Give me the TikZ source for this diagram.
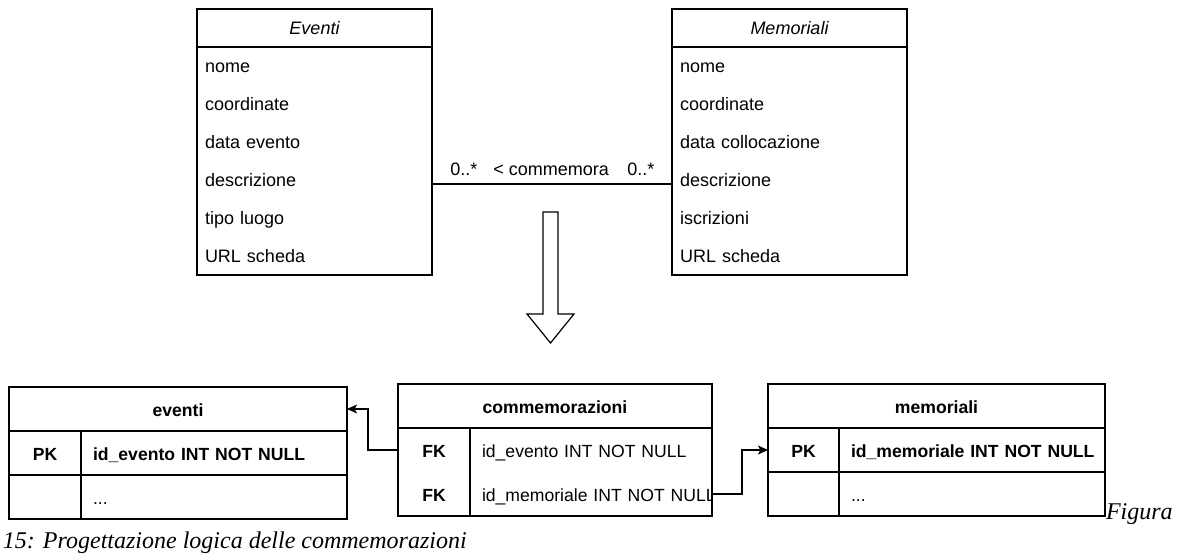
\documentclass[tikz,border=0pt]{standalone}
\usepackage{fontspec}
\setmainfont{Liberation Sans}
\newfontfamily\captionserif{Liberation Serif}
\usepackage{tikz}
\usetikzlibrary{positioning,calc,arrows.meta}

\begin{document}
\begin{tikzpicture}[x=0.5pt,y=-0.5pt,line width=0.6pt,
  every node/.append style={outer sep=0pt},
  classhead/.style={draw, inner sep=0pt, minimum width=117.5pt, minimum height=19pt, text height=7.5pt, text depth=0.8pt, font=\fontsize{9}{11}\selectfont\itshape},
  classbody/.style={draw, inner sep=0pt, minimum width=117.5pt, minimum height=114pt},
  attr/.style={inner xsep=4pt, inner ysep=0pt, text width=109.5pt, minimum height=19pt, text height=7.5pt, text depth=0.8pt, align=left, font=\fontsize{9}{11}\selectfont},
  assoc/.style={above=4pt, inner sep=0pt, font=\fontsize{9}{11}\selectfont},
  tblhead/.style={draw, inner sep=0pt, minimum height=22pt, text height=7.5pt, text depth=0pt, font=\fontsize{8.8}{10}\selectfont\bfseries},
  keycell/.style={inner sep=0pt, minimum width=36pt, minimum height=22pt, text height=7.5pt, text depth=0pt, font=\fontsize{8.8}{10}\selectfont\bfseries},
  fieldcell/.style={inner xsep=6pt, inner ysep=0pt, text width=#1, minimum height=22pt, text height=7.5pt, text depth=0pt, align=left, font=\fontsize{8.8}{10}\selectfont},
  fk/.style={-{Stealth[length=5pt,width=4.5pt,inset=1.2pt]}, line width=0.6pt},
  figcap/.style={anchor=base west, inner sep=0pt, font=\captionserif\itshape\fontsize{12}{14}\selectfont}]
\useasboundingbox (0,0) rectangle (1183,556);

%conceptual classes
\node[classhead, anchor=north west] (ev-head) at (197,9) {Eventi};
\node[classbody, below=0pt of ev-head] (ev-body) {};
\foreach \t [count=\i] in {nome,coordinate,data evento,descrizione,tipo luogo,URL scheda}
  \node[attr] (ev-\i) at (314.5,{28+38*\i}) {\t};

\node[classhead, anchor=north west] (me-head) at (672,9) {Memoriali};
\node[classbody, below=0pt of me-head] (me-body) {};
\foreach \t [count=\i] in {nome,coordinate,data collocazione,descrizione,iscrizioni,URL scheda}
  \node[attr] (me-\i) at (789.5,{28+38*\i}) {\t};

%association
\draw ([yshift=-2pt]ev-4.east) --
  node[assoc, pos=0.133] {0..*}
  node[assoc, pos=0.496] {< commemora}
  node[assoc, pos=0.87] {0..*}
  ([yshift=-2pt]me-4.west);

%transformation arrow
\draw (543,212) -- (558,212) -- (558,314) -- (574,314) -- (550.5,343) -- (527,314) -- (543,314) -- cycle;

%table eventi
\node[tblhead, minimum width=169pt, anchor=north west] (eventi) at (9,387) {eventi};
\node[keycell, draw, below right=0pt of eventi.south west] (ev-pk) {PK};
\node[fieldcell=121pt, draw, right=0pt of ev-pk, font=\fontsize{8.8}{10}\selectfont\bfseries] (ev-id) {\mbox{id\_evento INT NOT NULL}};
\node[keycell, draw, below=0pt of ev-pk] (ev-key2) {};
\node[fieldcell=121pt, draw, right=0pt of ev-key2] (ev-more) {...};

%table commemorazioni
\node[tblhead, minimum width=157pt, anchor=north west] (comm) at (398,384) {commemorazioni};
\node[draw, inner sep=0pt, minimum width=157pt, minimum height=44pt, below=0pt of comm] (cm-body) {};
\node[keycell, below right=0pt of comm.south west] (cm-fk1) {FK};
\node[keycell, below=0pt of cm-fk1] (cm-fk2) {FK};
\draw (cm-fk1.north east) -- (cm-fk1.east |- cm-body.south);
\node[fieldcell=109pt, right=0pt of cm-fk1] (cm-ev) {\mbox{id\_evento INT NOT NULL}};
\begin{scope}
  \clip (cm-body.north west) rectangle (cm-body.south east);
  \node[fieldcell=109pt, right=0pt of cm-fk2] (cm-mem) {\mbox{id\_memoriale INT NOT NULL}};
\end{scope}

%table memoriali
\node[tblhead, minimum width=168.5pt, anchor=north west] (memoriali) at (768,384) {memoriali};
\node[keycell, draw, minimum width=35.5pt, below right=0pt of memoriali.south west] (mem-pk) {PK};
\node[fieldcell=121pt, draw, right=0pt of mem-pk, font=\fontsize{8.8}{10}\selectfont\bfseries] (mem-id) {\mbox{id\_memoriale INT NOT NULL}};
\node[keycell, draw, minimum width=35.5pt, below=0pt of mem-pk] (mem-key2) {};
\node[fieldcell=121pt, draw, right=0pt of mem-key2] (mem-more) {...};

%foreign keys
\draw[fk] (cm-fk1.west) -- ++(-30,0) |- (eventi.east);
\draw[fk] (cm-mem.east) -- ++(30,0) |- (mem-pk.west);

%caption
\node[figcap] (fig-a) at (1106,519) {Figura};
\node[figcap] (fig-b) at (3,548) {15: Progettazione logica delle commemorazioni};
\end{tikzpicture}
\end{document}
